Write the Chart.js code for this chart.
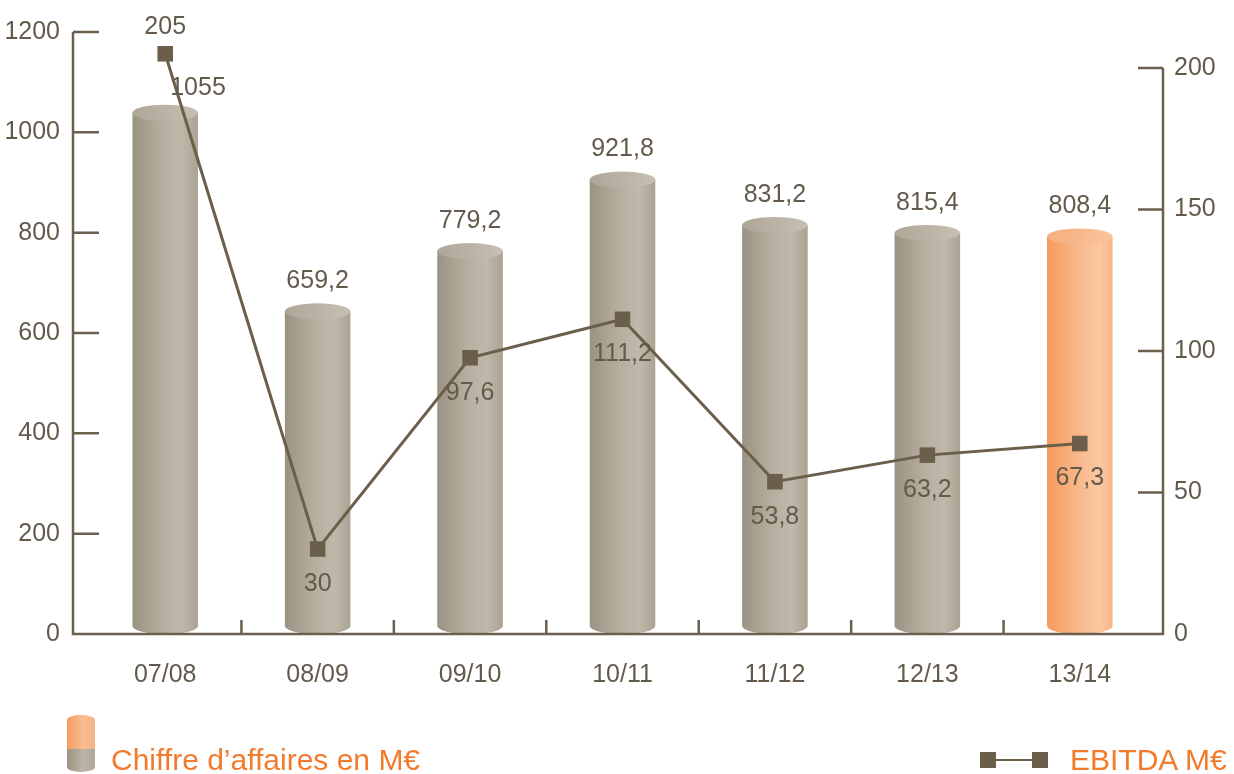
<!DOCTYPE html>
<html>
<head>
<meta charset="utf-8">
<script src="https://cdn.jsdelivr.net/npm/chart.js@4.4.1/dist/chart.umd.min.js"></script>
<style>
  body { margin: 0; background: #fff; }
  #wrap { position: relative; width: 1234px; height: 774px; }
  .leg { position: absolute; font-family: 'Liberation Sans', sans-serif; font-size: 30px; color: #f37a2b; line-height: 30px; }
  #leg1 { left: 111px; top: 745px; }
  #leg2 { left: 1070px; top: 745px; }
  #cyl { position: absolute; left: 67px; top: 715px; width: 28px; height: 57px; border-radius: 14px / 5px; overflow: hidden; }
  #cyl .o { height: 34px; background: linear-gradient(to right, #f59c62, #f9bd92 60%, #f6b286); }
  #cyl .g { height: 23px; background: linear-gradient(to right, #9b9383, #bdb5a6 60%, #aea696); }
  #lineIcon { position: absolute; left: 980px; top: 752px; width: 68px; height: 16px; }
  #lineIcon .sq { position: absolute; top: 0; width: 16px; height: 16px; background: #6b5f4c; }
  #lineIcon .ln { position: absolute; left: 8px; right: 8px; top: 7px; height: 2px; background: #6b5f4c; }
</style>
</head>
<body>
<div id="wrap">
  <canvas id="chart"></canvas>
  <div id="cyl"><div class="o"></div><div class="g"></div></div>
  <div class="leg" id="leg1">Chiffre d’affaires en M€</div>
  <div id="lineIcon"><div class="ln"></div><div class="sq" style="left:0"></div><div class="sq" style="right:0"></div></div>
  <div class="leg" id="leg2">EBITDA M€</div>
</div>
<script>
// exercices
const periods = ['07/08', '08/09', '09/10', '10/11', '11/12', '12/13', '13/14'];
// chiffre d'affaires en M€
const revenue = [1055, 659.2, 779.2, 921.8, 831.2, 815.4, 808.4];
// EBITDA en M€
const ebitda = [205, 30, 97.6, 111.2, 53.8, 63.2, 67.3];
const leftTicks = [0, 200, 400, 600, 800, 1000, 1200];
const rightTicks = [0, 50, 100, 150, 200];
const highlight = '13/14';

const FONT = "'Liberation Sans', Arial, sans-serif";
const FSIZE = 25;
const TXT = '#635a4b';
const AXIS = '#6b5f4e';

function fmt(v) {
    return String(v).replace('.', ',');
}

// dessine les barres en cylindres
const cylinders = {
    id: 'cylinders',
    beforeDatasetDraw(chart, args) {
        if (args.index !== 0) return;
        const ctx = chart.ctx;
        args.meta.data.forEach(function (el, i) {
            const w = el.width, x0 = el.x - w / 2, top = el.y, base = el.base;
            const ry = 8;
            const orange = periods[i] === highlight;
            const g = ctx.createLinearGradient(x0, 0, x0 + w, 0);
            if (orange) {
                g.addColorStop(0, '#f59a5e');
                g.addColorStop(0.5, '#f9b98c');
                g.addColorStop(0.8, '#fbc8a2');
                g.addColorStop(1, '#f7b488');
            } else {
                g.addColorStop(0, '#9a9282');
                g.addColorStop(0.45, '#b6ae9f');
                g.addColorStop(0.75, '#c0b9ab');
                g.addColorStop(1, '#aaa292');
            }
            ctx.save();
            ctx.fillStyle = g;
            ctx.beginPath();
            ctx.moveTo(x0, top + ry);
            ctx.lineTo(x0, base - ry);
            ctx.ellipse(el.x, base - ry, w / 2, ry, 0, Math.PI, 0, true);
            ctx.lineTo(x0 + w, top + ry);
            ctx.closePath();
            ctx.fill();
            const gt = ctx.createLinearGradient(x0, 0, x0 + w, 0);
            if (orange) {
                gt.addColorStop(0, '#f7ad7c');
                gt.addColorStop(1, '#fbc49c');
            } else {
                gt.addColorStop(0, '#aea697');
                gt.addColorStop(1, '#c6c0b3');
            }
            ctx.fillStyle = gt;
            ctx.beginPath();
            ctx.ellipse(el.x, top + ry, w / 2, ry, 0, 0, Math.PI * 2);
            ctx.fill();
            ctx.restore();
        });
        return false;
    }
};

// axes avec petites graduations, étiquettes de valeurs
const frame = {
    id: 'frame',
    afterDatasetsDraw(chart) {
        const ctx = chart.ctx;
        const a = chart.chartArea;
        const x = chart.scales.x, y = chart.scales.y, y1 = chart.scales.y1;
        const L = a.left - 16, R = a.right + 7, B = a.bottom;
        ctx.save();
        ctx.strokeStyle = AXIS;
        ctx.lineWidth = 2.5;
        ctx.beginPath();
        ctx.moveTo(L, y.getPixelForValue(1200));
        ctx.lineTo(L, B);
        ctx.lineTo(R, B);
        ctx.lineTo(R, y1.getPixelForValue(200));
        leftTicks.forEach(function (v) {
            const p = y.getPixelForValue(v);
            ctx.moveTo(L, p);
            ctx.lineTo(L + 26, p);
        });
        rightTicks.forEach(function (v) {
            const p = y1.getPixelForValue(v);
            ctx.moveTo(R, p);
            ctx.lineTo(R - 25, p);
        });
        const step = x.getPixelForValue(1) - x.getPixelForValue(0);
        for (let i = 0; i < periods.length - 1; i++) {
            const p = x.getPixelForValue(i) + step / 2;
            ctx.moveTo(p, B);
            ctx.lineTo(p, B - 14);
        }
        ctx.stroke();

        ctx.fillStyle = TXT;
        ctx.font = FSIZE + 'px ' + FONT;
        ctx.textAlign = 'center';
        ctx.textBaseline = 'middle';
        const bars = chart.getDatasetMeta(0).data;
        const pts = chart.getDatasetMeta(1).data;
        bars.forEach(function (el, i) {
            const pt = pts[i];
            if (pt.y < el.y) {
                ctx.fillText(fmt(revenue[i]), el.x + el.width / 2, el.y - 17);
                ctx.fillText(fmt(ebitda[i]), pt.x, pt.y - 27);
            } else {
                ctx.fillText(fmt(revenue[i]), el.x, el.y - 22);
                ctx.fillText(fmt(ebitda[i]), pt.x, pt.y + 35);
            }
        });
        ctx.restore();
    }
};

const tickFont = { family: FONT, size: FSIZE };

new Chart(document.getElementById('chart'), {
    type: 'bar',
    data: {
        labels: periods,
        datasets: [{
            label: 'Chiffre d’affaires en M€',
            data: revenue,
            yAxisID: 'y',
            backgroundColor: '#b5ad9e',
            barPercentage: 0.86,
            categoryPercentage: 0.5,
            order: 1
        }, {
            type: 'line',
            label: 'EBITDA M€',
            data: ebitda,
            yAxisID: 'y1',
            borderColor: '#6b5f4c',
            borderWidth: 3,
            tension: 0,
            pointStyle: 'rect',
            pointRadius: 11,
            pointBackgroundColor: '#6b5f4c',
            pointBorderWidth: 0,
            order: 0
        }]
    },
    plugins: [cylinders, frame],
    options: {
        responsive: true,
        maintainAspectRatio: false,
        animation: false,
        layout: { padding: { top: 32, left: 0, right: 0, bottom: 0 } },
        plugins: {
            legend: { display: false },
            tooltip: { enabled: false }
        },
        scales: {
            x: {
                grid: { display: false },
                border: { display: false },
                ticks: { color: TXT, font: tickFont, padding: 18 },
                afterFit: function (s) { s.height = 140; }
            },
            y: {
                position: 'left',
                min: 0,
                max: 1200,
                grid: { display: false },
                border: { display: false },
                afterBuildTicks: function (s) { s.ticks = leftTicks.map(function (v) { return { value: v }; }); },
                ticks: { color: TXT, font: tickFont, padding: 21, callback: function (v) { return String(v); } },
                afterFit: function (s) { s.width = 89; s.paddingTop = 0; s.paddingBottom = 0; }
            },
            y1: {
                position: 'right',
                min: 0,
                max: 212.7,
                grid: { display: false },
                border: { display: false },
                afterBuildTicks: function (s) { s.ticks = rightTicks.map(function (v) { return { value: v }; }); },
                ticks: { color: TXT, font: tickFont, padding: 10, callback: function (v) { return String(v); } },
                afterFit: function (s) { s.width = 78; s.paddingTop = 0; s.paddingBottom = 0; }
            }
        }
    }
});
</script>
</body>
</html>
